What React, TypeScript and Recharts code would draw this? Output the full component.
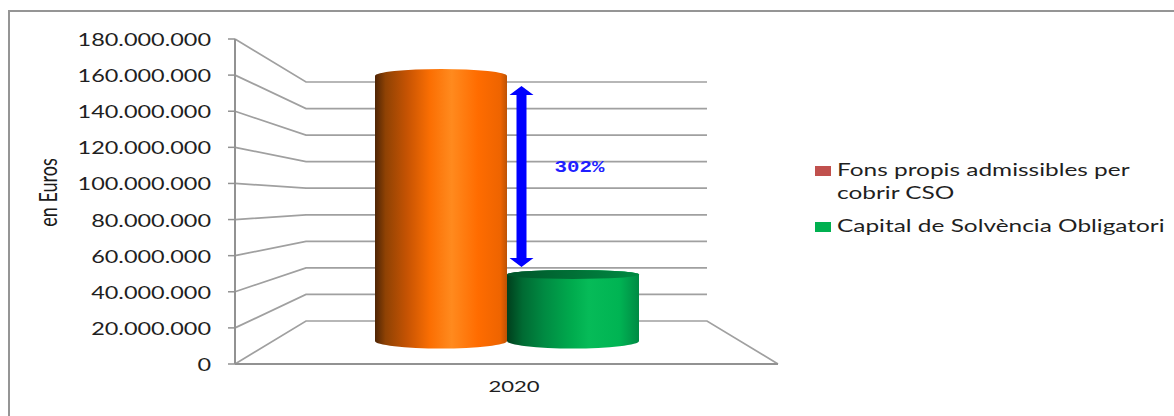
import {
  ComposedChart,
  Bar,
  XAxis,
  YAxis,
  CartesianGrid,
  Legend,
  ReferenceLine,
} from "recharts";

const categories = ["2020"];
const fonsPropis = [159500000];
const capitalSolvencia = [49600000];
const yTicks = [0, 20000000, 40000000, 60000000, 80000000, 100000000, 120000000, 140000000, 160000000, 180000000];
const arrowRange = [53700000, 154000000];
const ratioLabel = "302%";

const data = categories.map((year, i) => ({
  year,
  fons: fonsPropis[i],
  capital: capitalSolvencia[i],
}));

const FONT = "Lato, 'Open Sans', sans-serif";
const TEXT = "#1f1f1f";
const GRID = "#a0a0a0";
const AXIS = "#929292";
const STRETCH = 1.38;

// fake 3D floor: the back wall sits inset from the front plane
const BACK_X = 71;
const BACK_SCALE = 239 / 325;
const BACK_DROP = 43;
const FRONT_BOTTOM = 364;
const CYL_DROP = 23;

const formatEuros = (value: number) => value.toString().replace(/\B(?=(\d{3})+$)/g, ".");

function gridLine(props: any) {
  const { x1, x2, y1 } = props;
  const backY = FRONT_BOTTOM - BACK_DROP - (FRONT_BOTTOM - y1) * BACK_SCALE;
  const isFloor = Math.abs(y1 - FRONT_BOTTOM) < 1;
  const points = [`${x1},${y1}`, `${x1 + BACK_X},${backY}`, `${x2 - BACK_X},${backY}`];
  if (isFloor) points.push(`${x2},${y1}`);
  return <polyline key={props.key ?? y1} points={points.join(" ")} fill="none" stroke={GRID} strokeWidth={1.7} />;
}

function YTick(props: any) {
  const { x, y, payload } = props;
  return (
    <text
      transform={`translate(${x},${y + 7}) scale(${STRETCH},1)`}
      textAnchor="end"
      fontFamily={FONT}
      fontSize={17}
      fill={TEXT}
    >
      {formatEuros(payload.value)}
    </text>
  );
}

function XTick(props: any) {
  const { x, payload } = props;
  return (
    <text
      transform={`translate(${x + 7.5},392) scale(${STRETCH},1)`}
      textAnchor="middle"
      fontFamily={FONT}
      fontSize={16}
      fill={TEXT}
    >
      {payload.value}
    </text>
  );
}

function YLabel() {
  return (
    <text
      transform={`translate(57,192.5) scale(${STRETCH},1) rotate(-90)`}
      textAnchor="middle"
      fontFamily={FONT}
      fontSize={18}
      fill="#1a1a1a"
    >
      en Euros
    </text>
  );
}

function cylinder(gradient: string, topRy: number, cap?: string) {
  return (props: any) => {
    const { x, y, width, height } = props;
    const rx = width / 2;
    const baseY = y + height - CYL_DROP;
    const bottomRy = 7.5;
    return (
      <g>
        <path
          d={`M${x},${y} A${rx},${topRy} 0 0 1 ${x + width},${y} L${x + width},${baseY} A${rx},${bottomRy} 0 0 1 ${x},${baseY} Z`}
          fill={`url(#${gradient})`}
        />
        {cap && <ellipse cx={x + rx} cy={y} rx={rx} ry={topRy} fill={cap} />}
      </g>
    );
  };
}

function arrowShape(props: any) {
  const { x1, y1, y2 } = props;
  const cx = x1 + 15;
  const top = Math.min(y1, y2);
  const bottom = Math.max(y1, y2);
  const midY = top + (bottom - top) * 0.47;
  return (
    <g>
      <path
        d={`M${cx},${top} L${cx + 12},${top + 9} L${cx + 5},${top + 9} L${cx + 5},${bottom - 9} L${cx + 12},${bottom - 9} L${cx},${bottom} L${cx - 12},${bottom - 9} L${cx - 5},${bottom - 9} L${cx - 5},${top + 9} L${cx - 12},${top + 9} Z`}
        fill="#0000ff"
      />
      <text
        transform={`translate(${cx + 33},${midY + 1}) scale(1.3,1)`}
        fontFamily="'Liberation Mono', monospace"
        fontWeight="bold"
        fontSize={16}
        fill="#1f1fff"
      >
        {ratioLabel}
      </text>
    </g>
  );
}

function wrapName(name: string, max: number) {
  const lines: string[] = [];
  let line = "";
  name.split(" ").forEach((word) => {
    if (line && (line + " " + word).length > max) {
      lines.push(line);
      line = word;
    } else {
      line = line ? line + " " + word : word;
    }
  });
  lines.push(line);
  return lines;
}

function LegendBox(props: any) {
  let y = 0;
  const rows = (props.payload || []).map((entry: any) => {
    const lines = wrapName(entry.value, 32);
    const startY = y;
    y += lines.length * 23 + 10;
    return { entry, lines, startY };
  });
  return (
    <svg width={356} height={90} style={{ display: "block" }}>
      {rows.map(({ entry, lines, startY }: any) => (
        <g key={entry.value}>
          <rect x={0} y={startY + 8} width={16} height={10} fill={entry.color} />
          {lines.map((text: string, i: number) => (
            <text
              key={text}
              transform={`translate(22,${startY + 18 + i * 23}) scale(${STRETCH},1)`}
              fontFamily={FONT}
              fontSize={17.7}
              fill={TEXT}
            >
              {text}
            </text>
          ))}
        </g>
      ))}
    </svg>
  );
}

export default function App() {
  return (
    <div style={{ position: "fixed", left: 0, top: 0, width: 1174, height: 416, background: "#fff", overflow: "hidden" }}>
      <div
        style={{
          position: "absolute",
          left: 8,
          top: 10,
          width: 1400,
          height: 500,
          border: "2px solid #959595",
          boxSizing: "border-box",
        }}
      />
      <ComposedChart
        width={1174}
        height={416}
        data={data}
        barSize={132}
        barGap={0}
        margin={{ top: 39, right: 396, bottom: 0, left: 0 }}
        style={{ position: "absolute", left: 0, top: 0 }}
      >
        <defs>
          <linearGradient id="orangeCyl" x1="0" y1="0" x2="1" y2="0">
            <stop offset="0%" stopColor="#4f2505" />
            <stop offset="8%" stopColor="#8f4204" />
            <stop offset="25%" stopColor="#c85403" />
            <stop offset="42%" stopColor="#fb6f03" />
            <stop offset="58%" stopColor="#ff8a1e" />
            <stop offset="78%" stopColor="#ff6c00" />
            <stop offset="95%" stopColor="#ee6400" />
            <stop offset="100%" stopColor="#bd5204" />
          </linearGradient>
          <linearGradient id="greenCyl" x1="0" y1="0" x2="1" y2="0">
            <stop offset="0%" stopColor="#003f1d" />
            <stop offset="12%" stopColor="#006b33" />
            <stop offset="28%" stopColor="#008a42" />
            <stop offset="50%" stopColor="#00ac4e" />
            <stop offset="62%" stopColor="#06bb58" />
            <stop offset="85%" stopColor="#00b453" />
            <stop offset="100%" stopColor="#008a44" />
          </linearGradient>
          <linearGradient id="greenCap" x1="0" y1="0" x2="1" y2="0">
            <stop offset="0%" stopColor="#00552a" />
            <stop offset="100%" stopColor="#008a42" />
          </linearGradient>
        </defs>
        <CartesianGrid vertical={false} horizontal={gridLine} />
        <XAxis
          dataKey="year"
          height={52}
          tick={XTick}
          tickLine={false}
          axisLine={{ stroke: AXIS, strokeWidth: 2 }}
        />
        <YAxis
          width={235}
          domain={[0, 180000000]}
          ticks={yTicks}
          interval={0}
          tick={YTick}
          tickSize={7}
          tickMargin={17}
          tickLine={{ stroke: AXIS, strokeWidth: 1.5 }}
          axisLine={{ stroke: AXIS, strokeWidth: 2 }}
          label={YLabel}
        />
        <Legend
          layout="vertical"
          align="center"
          verticalAlign="middle"
          itemSorter={null}
          content={LegendBox}
          wrapperStyle={{ left: 815, top: 158, width: 356 }}
        />
        <Bar
          dataKey="fons"
          name="Fons propis admissibles per cobrir CSO"
          fill="#c0504d"
          shape={cylinder("orangeCyl", 7)}
          isAnimationActive={false}
        />
        <Bar
          dataKey="capital"
          name="Capital de Solvència Obligatori"
          fill="#00b050"
          shape={cylinder("greenCyl", 4.5, "url(#greenCap)")}
          isAnimationActive={false}
        />
        <ReferenceLine
          segment={[
            { x: categories[0], y: arrowRange[0] },
            { x: categories[0], y: arrowRange[1] },
          ]}
          shape={arrowShape}
        />
      </ComposedChart>
    </div>
  );
}
